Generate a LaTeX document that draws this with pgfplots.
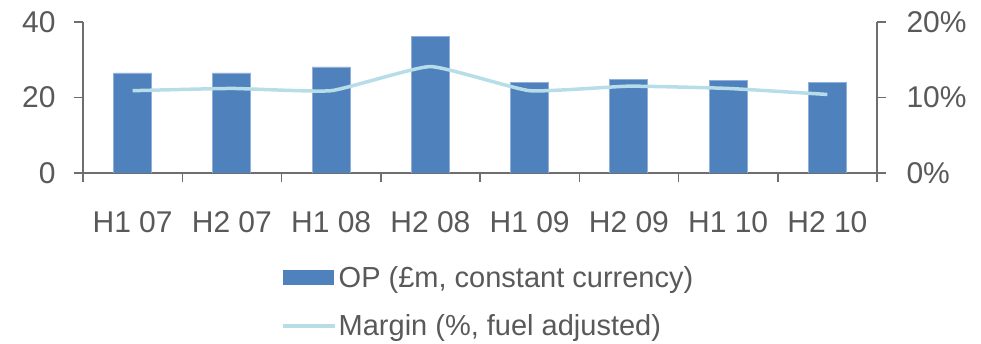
\documentclass[border=0pt]{standalone}
\usepackage{pgfplots}
\pgfplotsset{compat=1.18}
\usepackage{fontspec}
\setmainfont{Liberation Sans}
\definecolor{barblue}{HTML}{4F81BD}
\definecolor{baredge}{HTML}{8EB0DA}
\definecolor{lineblue}{HTML}{B7DEE8}
\definecolor{txt}{HTML}{595959}
\definecolor{axgray}{HTML}{6E6E6E}
\begin{document}
\begin{tikzpicture}
\path[use as bounding box] (-83pt,-171pt) rectangle (898pt,173pt);
\pgfplotsset{
 common/.style={
  at={(0pt,0pt)}, anchor=south west,
  scale only axis, width=794pt, height=151pt,
  xmin=-0.5, xmax=7.5,
  /pgf/number format/assume math mode=true,
  ticklabel style={font=\fontsize{30}{36}\selectfont, text=txt},
  axis line style={axgray, line width=1.5pt},
  major tick length=9pt,
  minor tick length=9pt,
  tick style={axgray, line width=1.5pt},
  tick align=outside,
 }
}
\begin{axis}[common,
  axis y line*=left, axis x line*=bottom,
  ymin=0, ymax=40, ytick={0,20,40},
  xtick={0,...,7},
  xticklabels={H1 07,H2 07,H1 08,H2 08,H1 09,H2 09,H1 10,H2 10},
  major x tick style={draw=none},
  minor xtick={-0.5,0.5,...,7.5},
  minor x tick style={axgray, line width=1.5pt},
  xticklabel style={anchor=base, yshift=-51pt},
  yticklabel style={anchor=east, xshift=-15pt},
]
\addplot[ybar, bar width=38pt, fill=barblue, draw=baredge, line width=0.8pt]
 coordinates {(0,26.5) (1,26.5) (2,28.1) (3,36.1) (4,23.9) (5,24.9) (6,24.4) (7,23.9)};
\end{axis}
\begin{axis}[common,
  axis y line*=right, axis x line=none,
  ymin=0, ymax=20, ytick={0,10,20},
  yticklabel={\pgfmathprintnumber{\tick}\%},
  yticklabel style={anchor=west, xshift=17pt},
  legend style={draw=none, fill=none, at={(0.2456,-0.59)}, anchor=north west,
    font=\fontsize{29}{35}\selectfont, text=txt, row sep=22pt},
  legend cell align=left,
]
\addlegendimage{legend image code/.code={\fill[barblue] (0pt,-7pt) rectangle (50pt,7pt);}}
\addlegendentry{OP (£m, constant currency)}
\addplot[lineblue, line width=3.5pt, smooth, tension=0.25,
  legend image code/.code={\draw[lineblue,line width=3.5pt] (0pt,0pt) -- (52pt,0pt);}]
 coordinates {(0,10.9) (1,11.2) (2,10.9) (3,14.1) (4,10.9) (5,11.5) (6,11.2) (7,10.4)};
\addlegendentry{Margin (\%, fuel adjusted)}
\end{axis}
\end{tikzpicture}
\end{document}
